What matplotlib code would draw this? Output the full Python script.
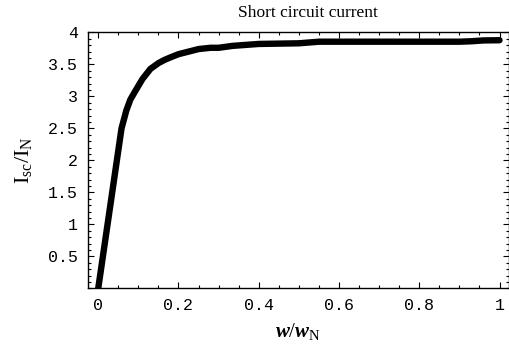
import matplotlib
matplotlib.use("Agg")
import matplotlib.pyplot as plt
from matplotlib.ticker import MultipleLocator, FixedLocator

plt.rcParams['mathtext.fontset'] = 'custom'
plt.rcParams['mathtext.rm'] = 'Liberation Serif'
plt.rcParams['mathtext.it'] = 'Liberation Serif:italic'
plt.rcParams['mathtext.bf'] = 'Liberation Serif:bold'
plt.rcParams['mathtext.bfit'] = 'Liberation Serif:italic:bold'

# data (w/wN vs Isc/IN)
w_ratio = [0.0, 0.058, 0.07, 0.08, 0.092, 0.11, 0.13, 0.15, 0.165, 0.18, 0.2, 0.225,
           0.25, 0.28, 0.3, 0.335, 0.4, 0.5, 0.55, 0.6, 0.7, 0.8, 0.9, 0.93, 0.96, 1.0]
isc_ratio = [0.0, 2.5, 2.78, 2.95, 3.08, 3.27, 3.43, 3.52, 3.57, 3.61, 3.66, 3.7,
             3.74, 3.76, 3.76, 3.79, 3.82, 3.83, 3.855, 3.855, 3.855, 3.855, 3.855, 3.862, 3.875, 3.878]

x_ticks = [0, 0.2, 0.4, 0.6, 0.8, 1]
x_ticklabels = ['0', '0.2', '0.4', '0.6', '0.8', '1']
y_ticks = [0.5, 1, 1.5, 2, 2.5, 3, 3.5, 4]
y_ticklabels = ['0.5', '1', '1.5', '2', '2.5', '3', '3.5', '4']

fig = plt.figure(figsize=(5.1, 3.45), dpi=100)
ax = fig.add_axes([0.1725, 0.1643, 0.8255, 0.7417])
ax.plot(w_ratio, isc_ratio, color='black', lw=4.6, solid_capstyle='round',
        solid_joinstyle='round')
ax.set_xlim(-0.0256, 1.0236)
ax.set_ylim(0, 4)

ax.xaxis.set_major_locator(FixedLocator(x_ticks))
ax.set_xticklabels(x_ticklabels)
ax.yaxis.set_major_locator(FixedLocator(y_ticks))
ax.set_yticklabels(y_ticklabels)
ax.xaxis.set_minor_locator(MultipleLocator(0.05))
ax.yaxis.set_minor_locator(MultipleLocator(0.1))
ax.tick_params(which='both', direction='in', top=True, right=True, width=0.8, color='black')
ax.tick_params(which='major', length=4, pad=7)
ax.tick_params(which='minor', length=2)
for lab in ax.get_xticklabels() + ax.get_yticklabels():
    lab.set_family('Liberation Mono')
    lab.set_fontsize(12)
for s in ax.spines.values():
    s.set_linewidth(1.0)

ax.set_title('Short circuit current', family='Liberation Serif', fontsize=12.5,
             pad=11, x=0.523)
ax.set_xlabel(r'$\mathbfit{w}/\mathbfit{w}_{\mathrm{N}}$', fontsize=15, labelpad=6)
ax.set_ylabel(r'$\mathrm{I}_{\mathrm{sc}}/\mathrm{I}_{\mathrm{N}}$', fontsize=16, labelpad=10)

fig.savefig('out.png', dpi=100)
